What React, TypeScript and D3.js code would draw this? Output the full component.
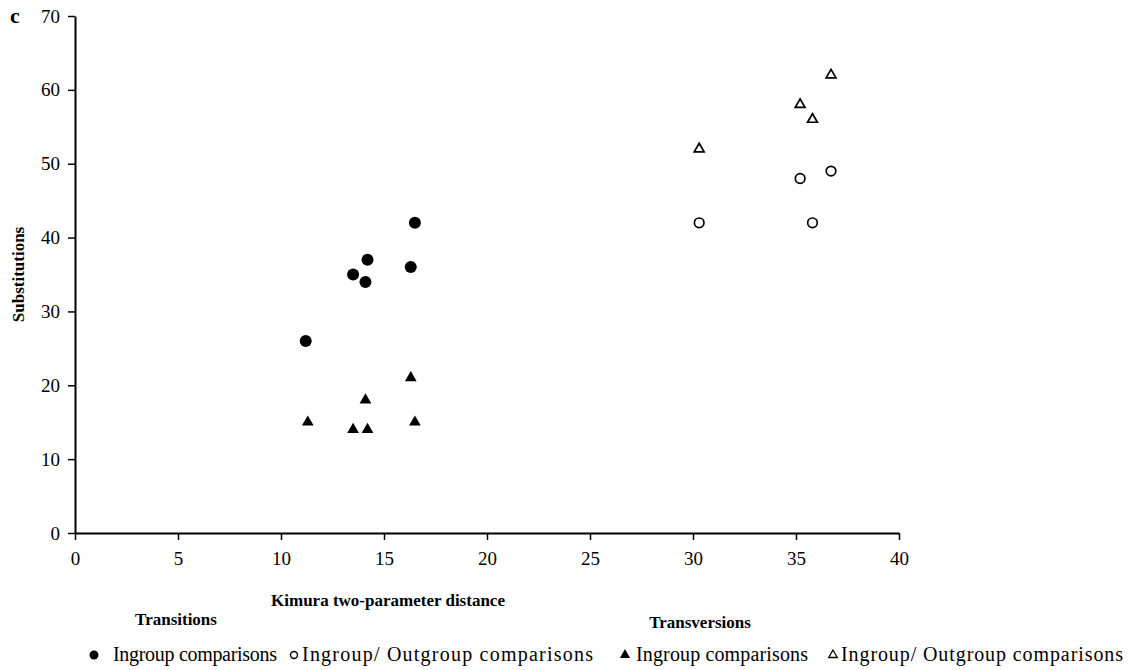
import React, { useEffect, useRef } from 'react';
import * as d3 from 'd3';

// Transitions (filled) and transversions (open), x = Kimura distance, y = substitutions
const tsIngroupX = [11.2, 13.5, 14.1, 14.2, 16.3, 16.5];
const tsIngroupY = [26, 35, 34, 37, 36, 42];
const tsIngroupTriX = [11.3, 13.5, 14.2, 14.1, 16.3, 16.5];
const tsIngroupTriY = [15, 14, 14, 18, 21, 15];
const tvOutgroupX = [30.3, 35.2, 35.8, 36.7];
const tvOutgroupY = [42, 48, 42, 49];
const tvOutgroupTriX = [30.3, 35.2, 35.8, 36.7];
const tvOutgroupTriY = [52, 58, 56, 62];

const xTicks = [0, 5, 10, 15, 20, 25, 30, 35, 40];
const yTicks = [0, 10, 20, 30, 40, 50, 60, 70];

const legendLabels = [
  'Ingroup comparisons',
  'Ingroup/ Outgroup comparisons',
  'Ingroup comparisons',
  'Ingroup/ Outgroup comparisons',
];

const FONT = '"Liberation Serif", "Times New Roman", serif';

const App: React.FC = () => {
  const svgRef = useRef<SVGSVGElement | null>(null);

  useEffect(() => {
    if (!svgRef.current) return;
    const svg = d3.select(svgRef.current);
    svg.selectAll('*').remove();

    const x = d3.scaleLinear().domain([0, 40]).range([75, 899]);
    const y = d3.scaleLinear().domain([0, 70]).range([533, 16]);

    // axes
    const xAxis = svg.append('g')
      .attr('transform', `translate(0,${y(0)})`)
      .call(d3.axisBottom(x).tickValues(xTicks).tickSize(7).tickPadding(12).tickSizeOuter(0));
    const yAxis = svg.append('g')
      .attr('transform', `translate(${x(0)},0)`)
      .call(d3.axisLeft(y).tickValues(yTicks).tickSize(7).tickPadding(8).tickSizeOuter(0));

    [xAxis, yAxis].forEach(a => {
      a.select('.domain').attr('stroke', '#000').attr('stroke-width', 2);
      a.selectAll('.tick line').attr('stroke', '#000').attr('stroke-width', 1.5);
      a.selectAll('.tick text')
        .attr('fill', '#000')
        .style('font-family', FONT)
        .style('font-size', '19px');
    });

    const g = svg.append('g');
    const tri = d3.symbol().type(d3.symbolTriangle);

    // filled circles - transitions ingroup
    g.selectAll('.fc')
      .data(tsIngroupX.map((v, i) => [v, tsIngroupY[i]]))
      .enter().append('circle')
      .attr('cx', d => x(d[0])).attr('cy', d => y(d[1]))
      .attr('r', 6).attr('fill', '#000');

    // filled triangles
    g.selectAll('.ft')
      .data(tsIngroupTriX.map((v, i) => [v, tsIngroupTriY[i]]))
      .enter().append('path')
      .attr('d', tri.size(60)())
      .attr('transform', d => `translate(${x(d[0])},${y(d[1])})`)
      .attr('fill', '#000');

    // open circles
    g.selectAll('.oc')
      .data(tvOutgroupX.map((v, i) => [v, tvOutgroupY[i]]))
      .enter().append('circle')
      .attr('cx', d => x(d[0])).attr('cy', d => y(d[1]))
      .attr('r', 4.8).attr('fill', 'none').attr('stroke', '#000').attr('stroke-width', 1.7);

    // open triangles
    g.selectAll('.ot')
      .data(tvOutgroupTriX.map((v, i) => [v, tvOutgroupTriY[i]]))
      .enter().append('path')
      .attr('d', tri.size(42)())
      .attr('transform', d => `translate(${x(d[0])},${y(d[1])})`)
      .attr('fill', 'none').attr('stroke', '#000').attr('stroke-width', 1.7);

    // titles
    svg.append('text')
      .attr('x', 10).attr('y', 23)
      .style('font-family', FONT).style('font-size', '22px').style('font-weight', 'bold')
      .text('c');
    svg.append('text')
      .attr('transform', `translate(24,${(y(0) + y(70)) / 2}) rotate(-90)`)
      .attr('text-anchor', 'middle')
      .style('font-family', FONT).style('font-size', '17px').style('font-weight', 'bold')
      .text('Substitutions');
    svg.append('text')
      .attr('x', 388).attr('y', 606)
      .attr('text-anchor', 'middle')
      .style('font-family', FONT).style('font-size', '17px').style('font-weight', 'bold')
      .text('Kimura two-parameter distance');
    svg.append('text')
      .attr('x', 176).attr('y', 625)
      .attr('text-anchor', 'middle')
      .style('font-family', FONT).style('font-size', '17px').style('font-weight', 'bold')
      .text('Transitions');
    svg.append('text')
      .attr('x', 700).attr('y', 628)
      .attr('text-anchor', 'middle')
      .style('font-family', FONT).style('font-size', '17px').style('font-weight', 'bold')
      .text('Transversions');

    // legend
    const legendX = [94, 294, 625, 833];
    const legendTextX = [113, 302, 636, 841];
    const legendTextW = [164, 291, 172, 282];
    const ly = 655;
    legendLabels.forEach((label, i) => {
      const cx = legendX[i];
      if (i === 0) {
        svg.append('circle').attr('cx', cx).attr('cy', ly).attr('r', 4.5).attr('fill', '#000');
      } else if (i === 1) {
        svg.append('circle').attr('cx', cx).attr('cy', ly).attr('r', 3.5)
          .attr('fill', 'none').attr('stroke', '#000').attr('stroke-width', 1.4);
      } else if (i === 2) {
        svg.append('path').attr('d', tri.size(45)())
          .attr('transform', `translate(${cx},${ly})`).attr('fill', '#000');
      } else {
        svg.append('path').attr('d', tri.size(32)())
          .attr('transform', `translate(${cx},${ly})`)
          .attr('fill', 'none').attr('stroke', '#000').attr('stroke-width', 1.3);
      }
      svg.append('text')
        .attr('x', legendTextX[i]).attr('y', ly + 6)
        .attr('textLength', legendTextW[i])
        .attr('lengthAdjust', 'spacing')
        .style('font-family', FONT).style('font-size', '20px')
        .text(label);
    });
  }, []);

  return (
    <div style={{ position: 'absolute', left: 0, top: 0 }}>
      <svg ref={svgRef} width={1128} height={670} style={{ display: 'block', background: '#fff' }} />
    </div>
  );
};

export default App;
